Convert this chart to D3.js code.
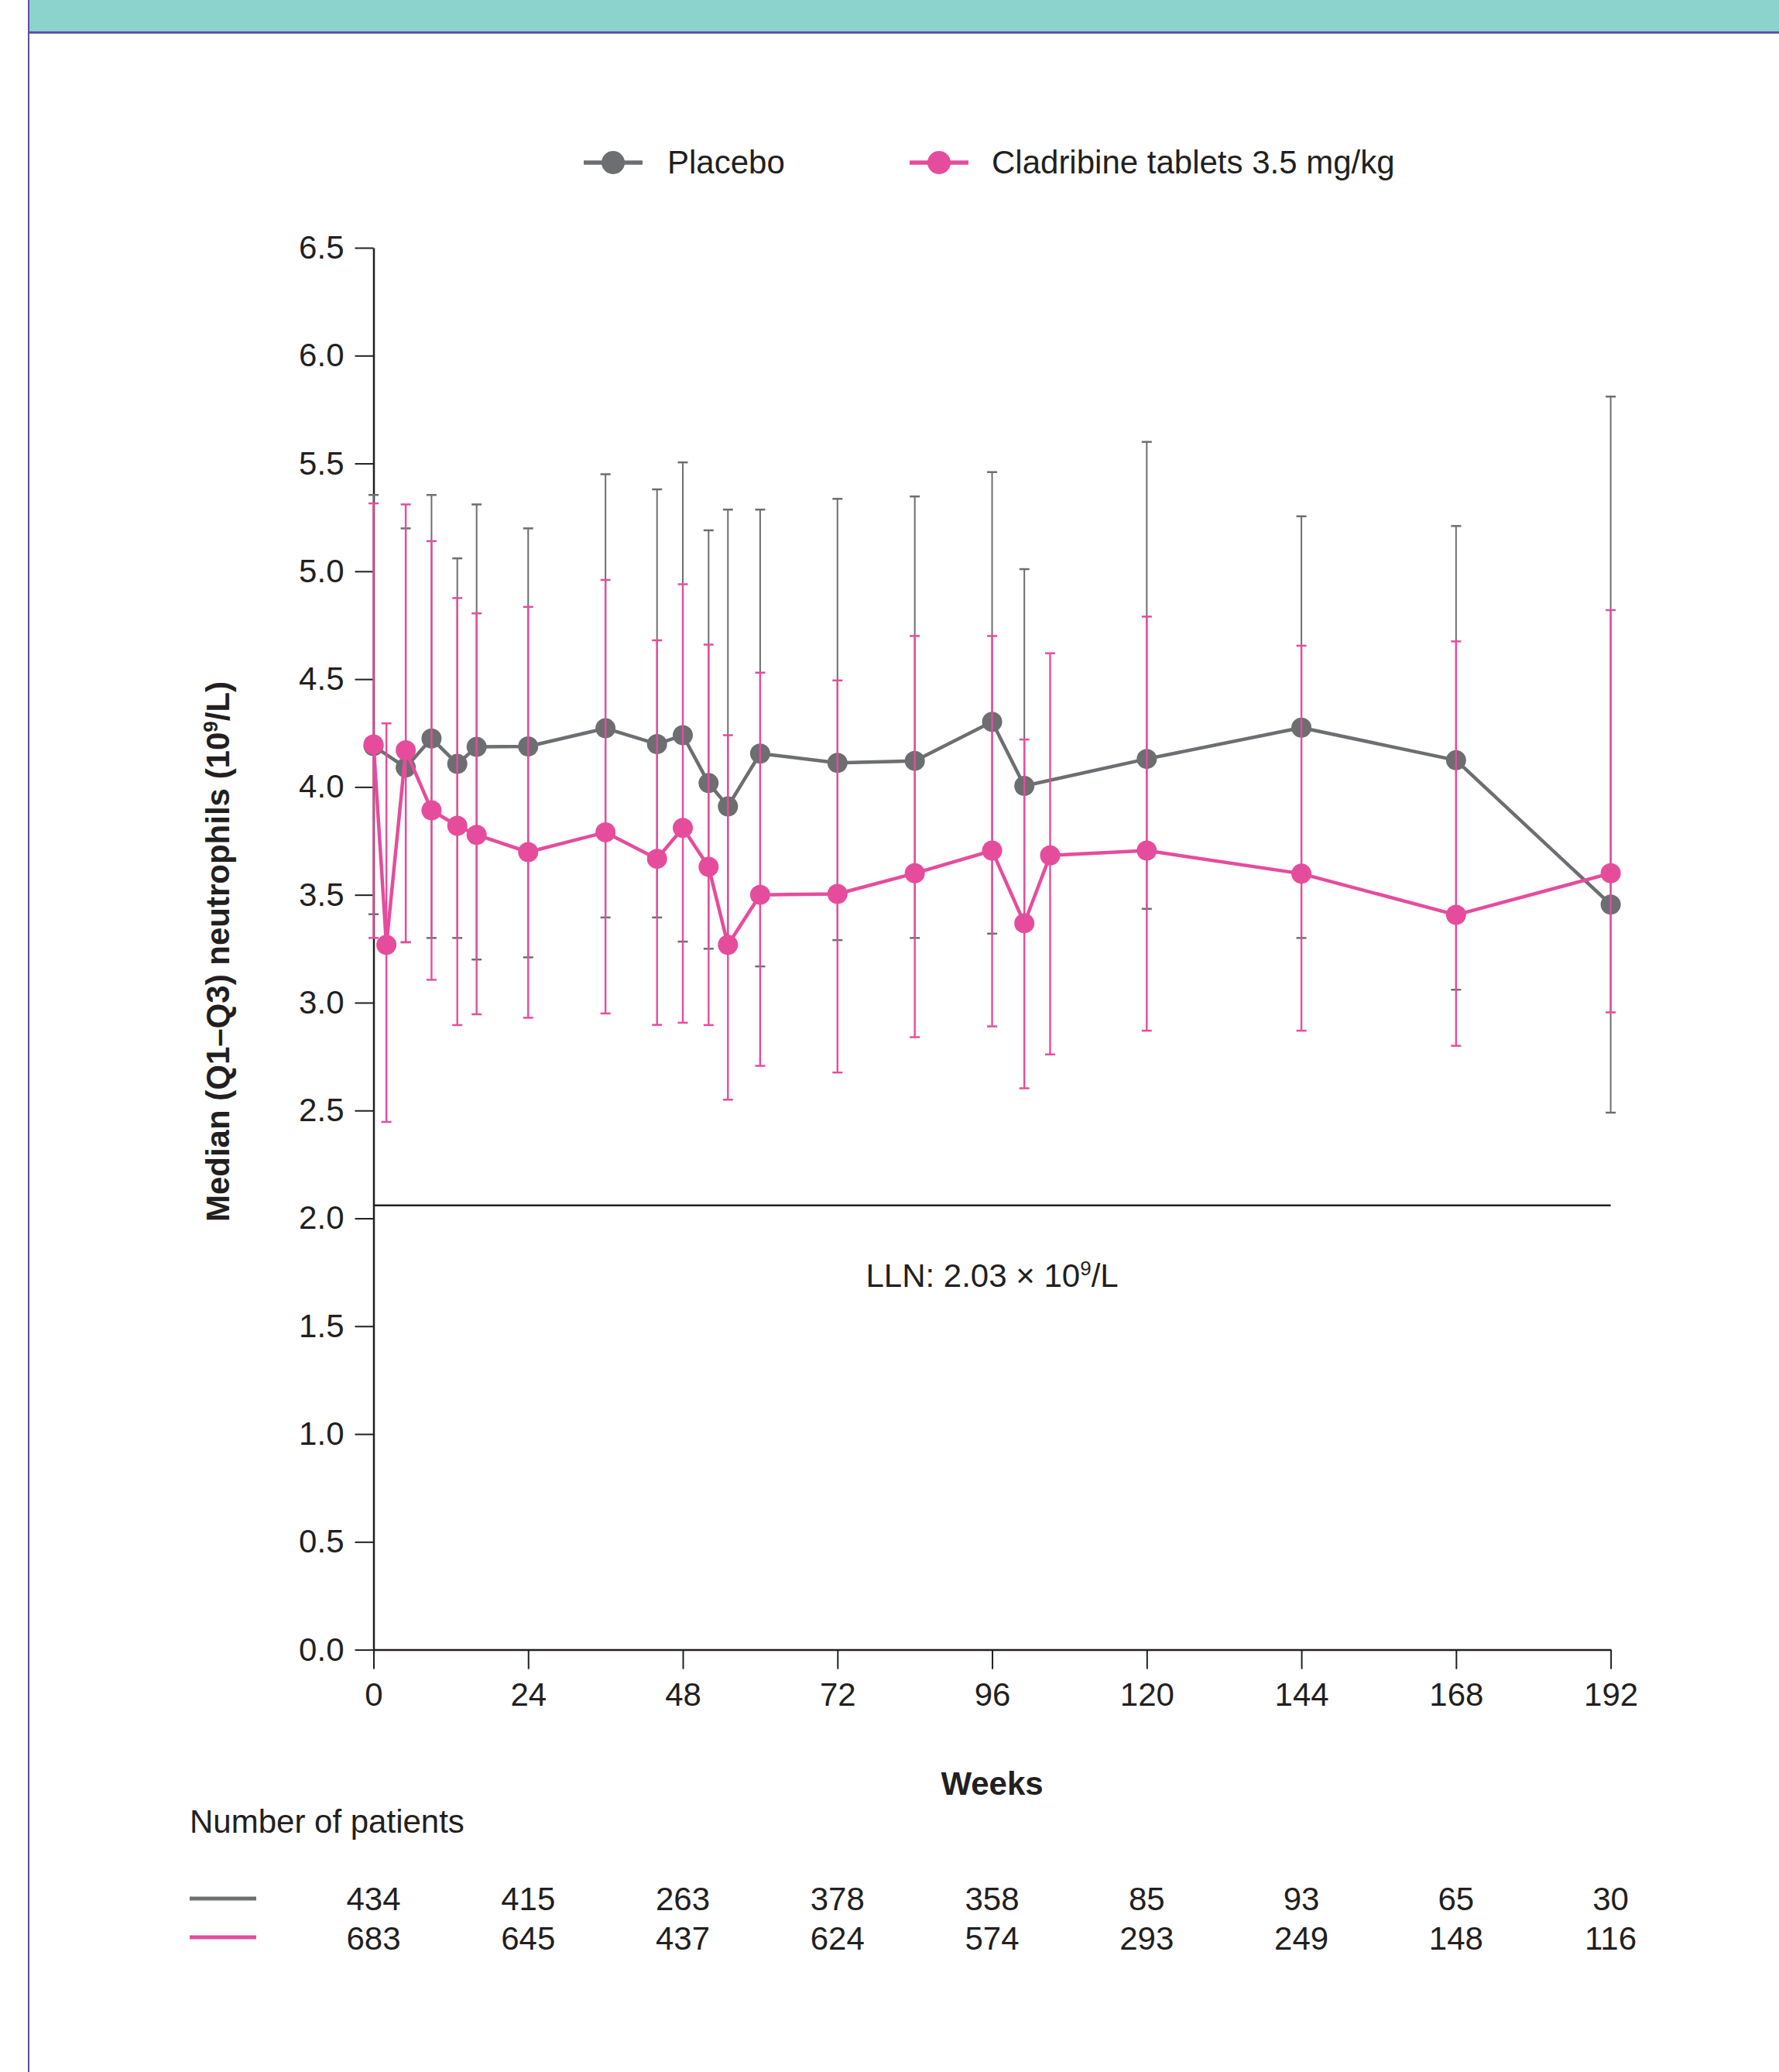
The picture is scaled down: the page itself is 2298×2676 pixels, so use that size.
<!DOCTYPE html>
<html>
<head>
<meta charset="utf-8">
<script src="https://cdn.jsdelivr.net/npm/d3@7"></script>
<style>
  body { margin: 0; background: #fff; }
  svg text { font-family: "Liberation Sans", Arial, Helvetica, sans-serif; fill: #231f20; }
</style>
</head>
<body>
<div id="chart"></div>
<script>
// values
const placeboWeeks = [0, 5, 9, 13, 16, 24, 36, 44, 48, 52, 55, 60, 72, 84, 96, 101, 120, 144, 168, 192];
const placeboMedian = [4.19, 4.09, 4.225, 4.107, 4.186, 4.188, 4.272, 4.199, 4.24, 4.018, 3.91, 4.155, 4.112, 4.121, 4.302, 4.005, 4.13, 4.275, 4.124, 3.455];
const placeboQ1 = [3.41, 3.28, 3.30, 3.30, 3.20, 3.21, 3.395, 3.395, 3.283, 3.25, 3.27, 3.168, 3.29, 3.30, 3.32, 3.38, 3.435, 3.30, 3.06, 2.49];
const placeboQ3 = [5.354, 5.199, 5.354, 5.06, 5.31, 5.199, 5.45, 5.38, 5.505, 5.19, 5.286, 5.286, 5.336, 5.347, 5.46, 5.01, 5.60, 5.255, 5.21, 5.81];

const cladWeeks = [0, 2, 5, 9, 13, 16, 24, 36, 44, 48, 52, 55, 60, 72, 84, 96, 101, 105, 120, 144, 168, 192];
const cladMedian = [4.197, 3.268, 4.17, 3.892, 3.82, 3.778, 3.698, 3.79, 3.667, 3.81, 3.63, 3.268, 3.50, 3.504, 3.60, 3.705, 3.368, 3.683, 3.705, 3.598, 3.407, 3.60];
const cladQ1 = [3.30, 2.447, 3.28, 3.106, 2.896, 2.946, 2.93, 2.95, 2.897, 2.907, 2.896, 2.55, 2.707, 2.676, 2.84, 2.89, 2.603, 2.76, 2.87, 2.87, 2.80, 2.955];
const cladQ3 = [5.315, 4.295, 5.31, 5.14, 4.876, 4.805, 4.835, 4.96, 4.68, 4.94, 4.66, 4.24, 4.53, 4.494, 4.70, 4.70, 4.22, 4.62, 4.79, 4.655, 4.675, 4.82];

const xTicks = [0, 24, 48, 72, 96, 120, 144, 168, 192];
const yTicks = [0, 0.5, 1, 1.5, 2, 2.5, 3, 3.5, 4, 4.5, 5, 5.5, 6, 6.5];
const nPlacebo = [434, 415, 263, 378, 358, 85, 93, 65, 30];
const nClad = [683, 645, 437, 624, 574, 293, 249, 148, 116];
const lln = 2.06;

const GREY = "#6d6e71";
const PINK = "#e64c9c";
const INK = "#231f20";

const width = 2298, height = 2676;

let svg = d3.select("#chart")
  .append("svg")
    .attr("width", width)
    .attr("height", height);

// page frame: teal band on top, purple rules
svg.append("rect")
  .attr("x", 37).attr("y", 0)
  .attr("width", width - 37).attr("height", 41)
  .attr("fill", "#8cd3cd");
svg.append("line")
  .attr("x1", 37).attr("x2", width)
  .attr("y1", 42).attr("y2", 42)
  .attr("stroke", "#5b4fa3").attr("stroke-width", 3);
svg.append("line")
  .attr("x1", 37).attr("x2", 37)
  .attr("y1", 0).attr("y2", height)
  .attr("stroke", "#5b4fa3").attr("stroke-width", 2);

const x = d3.scaleLinear().domain([0, 192]).range([482.5, 2080.6]);
const y = d3.scaleLinear().domain([0, 6.5]).range([2130.6, 320]);

// axes
let yAxis = svg.append("g")
  .attr("transform", "translate(" + x(0) + ",0)")
  .call(d3.axisLeft(y).tickValues(yTicks).tickFormat(d3.format(".1f")).tickSize(24).tickSizeOuter(0).tickPadding(14));
let xAxis = svg.append("g")
  .attr("transform", "translate(0," + y(0) + ")")
  .call(d3.axisBottom(x).tickValues(xTicks).tickSize(25).tickSizeOuter(0).tickPadding(18));

[yAxis, xAxis].forEach(function(g) {
  g.select(".domain").attr("stroke", INK).attr("stroke-width", 2.5);
  g.selectAll(".tick line").attr("stroke", INK).attr("stroke-width", 2);
  g.selectAll(".tick text")
    .attr("font-size", 42)
    .attr("fill", INK)
    .style("font-family", '"Liberation Sans", Arial, sans-serif');
});

// lower limit of normal
svg.append("line")
  .attr("x1", x(0)).attr("x2", x(192))
  .attr("y1", y(lln)).attr("y2", y(lln))
  .attr("stroke", INK).attr("stroke-width", 2.5);

let llnText = svg.append("text")
  .attr("x", x(96))
  .attr("y", 1662)
  .attr("text-anchor", "middle")
  .attr("font-size", 42);
llnText.append("tspan").text("LLN: 2.03 \u00d7 10");
llnText.append("tspan").text("9").attr("font-size", 26).attr("dy", -15);
llnText.append("tspan").text("/L").attr("dy", 15);

// axis titles
let yTitle = svg.append("text")
  .attr("transform", "translate(296,1229) rotate(-90)")
  .attr("text-anchor", "middle")
  .attr("font-size", 42)
  .attr("font-weight", "bold");
yTitle.append("tspan").text("Median (Q1\u2013Q3) neutrophils (10");
yTitle.append("tspan").text("9").attr("font-size", 26).attr("dy", -15);
yTitle.append("tspan").text("/L)").attr("dy", 15);

svg.append("text")
  .attr("x", x(96)).attr("y", 2318)
  .attr("text-anchor", "middle")
  .attr("font-size", 42)
  .attr("font-weight", "bold")
  .text("Weeks");

// one series: error bars, connecting line, markers
function drawSeries(weeks, median, q1, q3, color, barWidth) {
  let pts = weeks.map(function(w, i) {
    return { week: w, med: median[i], lo: q1[i], hi: q3[i] };
  });
  let g = svg.append("g");

  g.selectAll(".bar")
    .data(pts)
    .enter().append("line")
      .attr("x1", d => x(d.week)).attr("x2", d => x(d.week))
      .attr("y1", d => y(d.lo)).attr("y2", d => y(d.hi))
      .attr("stroke", color)
      .attr("stroke-width", barWidth);

  [["lo"], ["hi"]].forEach(function(k) {
    g.selectAll(".cap-" + k[0])
      .data(pts)
      .enter().append("line")
        .attr("x1", d => x(d.week) - 6.5).attr("x2", d => x(d.week) + 6.5)
        .attr("y1", d => y(d[k[0]])).attr("y2", d => y(d[k[0]]))
        .attr("stroke", color)
        .attr("stroke-width", 2.5);
  });

  let line = d3.line()
    .x(d => x(d.week))
    .y(d => y(d.med));

  g.append("path")
    .datum(pts)
    .attr("d", line)
    .attr("fill", "none")
    .attr("stroke", color)
    .attr("stroke-width", 4.5)
    .attr("stroke-linejoin", "round");

  g.selectAll("circle")
    .data(pts)
    .enter().append("circle")
      .attr("cx", d => x(d.week))
      .attr("cy", d => y(d.med))
      .attr("r", 13)
      .attr("fill", color);
}

drawSeries(placeboWeeks, placeboMedian, placeboQ1, placeboQ3, GREY, 2);
drawSeries(cladWeeks, cladMedian, cladQ1, cladQ3, PINK, 2.4);

// legend
const legendItems = [
  { label: "Placebo", color: GREY, cx: 792, tx: 862 },
  { label: "Cladribine tablets 3.5 mg/kg", color: PINK, cx: 1213, tx: 1281 }
];
let legend = svg.append("g");
legendItems.forEach(function(d) {
  legend.append("line")
    .attr("x1", d.cx - 38).attr("x2", d.cx + 38)
    .attr("y1", 210).attr("y2", 210)
    .attr("stroke", d.color).attr("stroke-width", 5.5);
  legend.append("circle")
    .attr("cx", d.cx).attr("cy", 210).attr("r", 15)
    .attr("fill", d.color);
  legend.append("text")
    .attr("x", d.tx).attr("y", 224)
    .attr("font-size", 42)
    .text(d.label);
});

// number at risk table
svg.append("text")
  .attr("x", 245).attr("y", 2367)
  .attr("font-size", 42)
  .text("Number of patients");

const rows = [
  { counts: nPlacebo, color: GREY, ly: 2452, ty: 2467 },
  { counts: nClad, color: PINK, ly: 2502, ty: 2518 }
];
rows.forEach(function(r) {
  svg.append("line")
    .attr("x1", 245).attr("x2", 331)
    .attr("y1", r.ly).attr("y2", r.ly)
    .attr("stroke", r.color).attr("stroke-width", 5);
  svg.append("g")
    .selectAll("text")
    .data(r.counts)
    .enter().append("text")
      .attr("x", (d, i) => x(xTicks[i]))
      .attr("y", r.ty)
      .attr("text-anchor", "middle")
      .attr("font-size", 42)
      .text(d => d);
});
</script>
</body>
</html>
